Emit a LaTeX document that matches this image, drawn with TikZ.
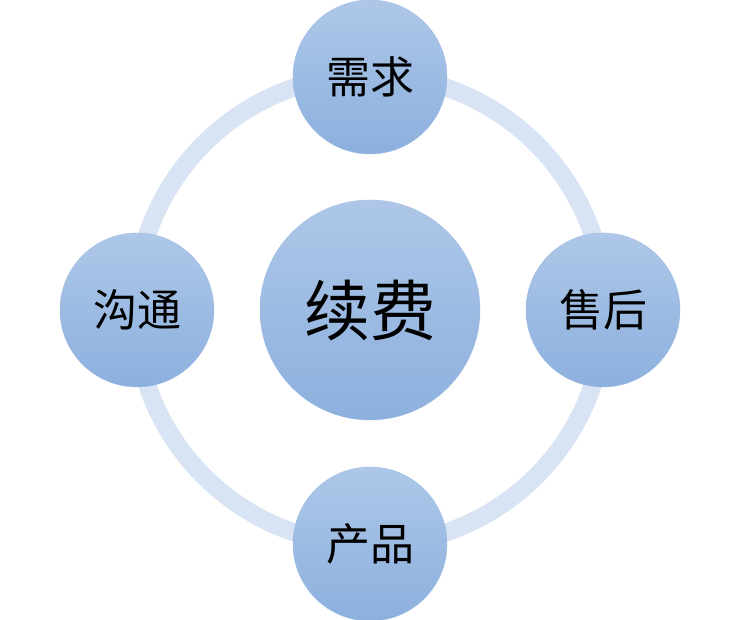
\documentclass[tikz,border=0pt]{standalone}
\usepackage{fontspec}
\newfontfamily\cjk{Noto Sans CJK SC}
\definecolor{ringc}{RGB}{216,227,244}
\definecolor{topc}{RGB}{174,199,232}
\definecolor{botc}{RGB}{140,176,222}
\definecolor{edgec}{RGB}{158,188,226}
\begin{document}
\begin{tikzpicture}[x=1pt,y=1pt,
  ball/.style={circle,inner sep=0pt,top color=topc,bottom color=botc,draw=edgec,line width=0.4pt,font=\cjk,text=black},
  small/.style={ball,minimum size=154pt,font=\cjk\fontsize{44}{48}\selectfont},
  big/.style={ball,minimum size=220pt,font=\cjk\fontsize{66}{72}\selectfont},
  ring/.style={draw=ringc,line width=18pt}]
\useasboundingbox[fill=white] (0,0) rectangle (740,620);
\coordinate (o) at (370,310);
\draw[ring] (o) circle (235);
\node[big] (c) at (370,310) {续费};
\node[small] (t) at (370,543) {需求};
\node[small] (b) at (370,76) {产品};
\node[small] (l) at (137,310) {沟通};
\node[small] (r) at (603,310) {售后};
\end{tikzpicture}
\end{document}
